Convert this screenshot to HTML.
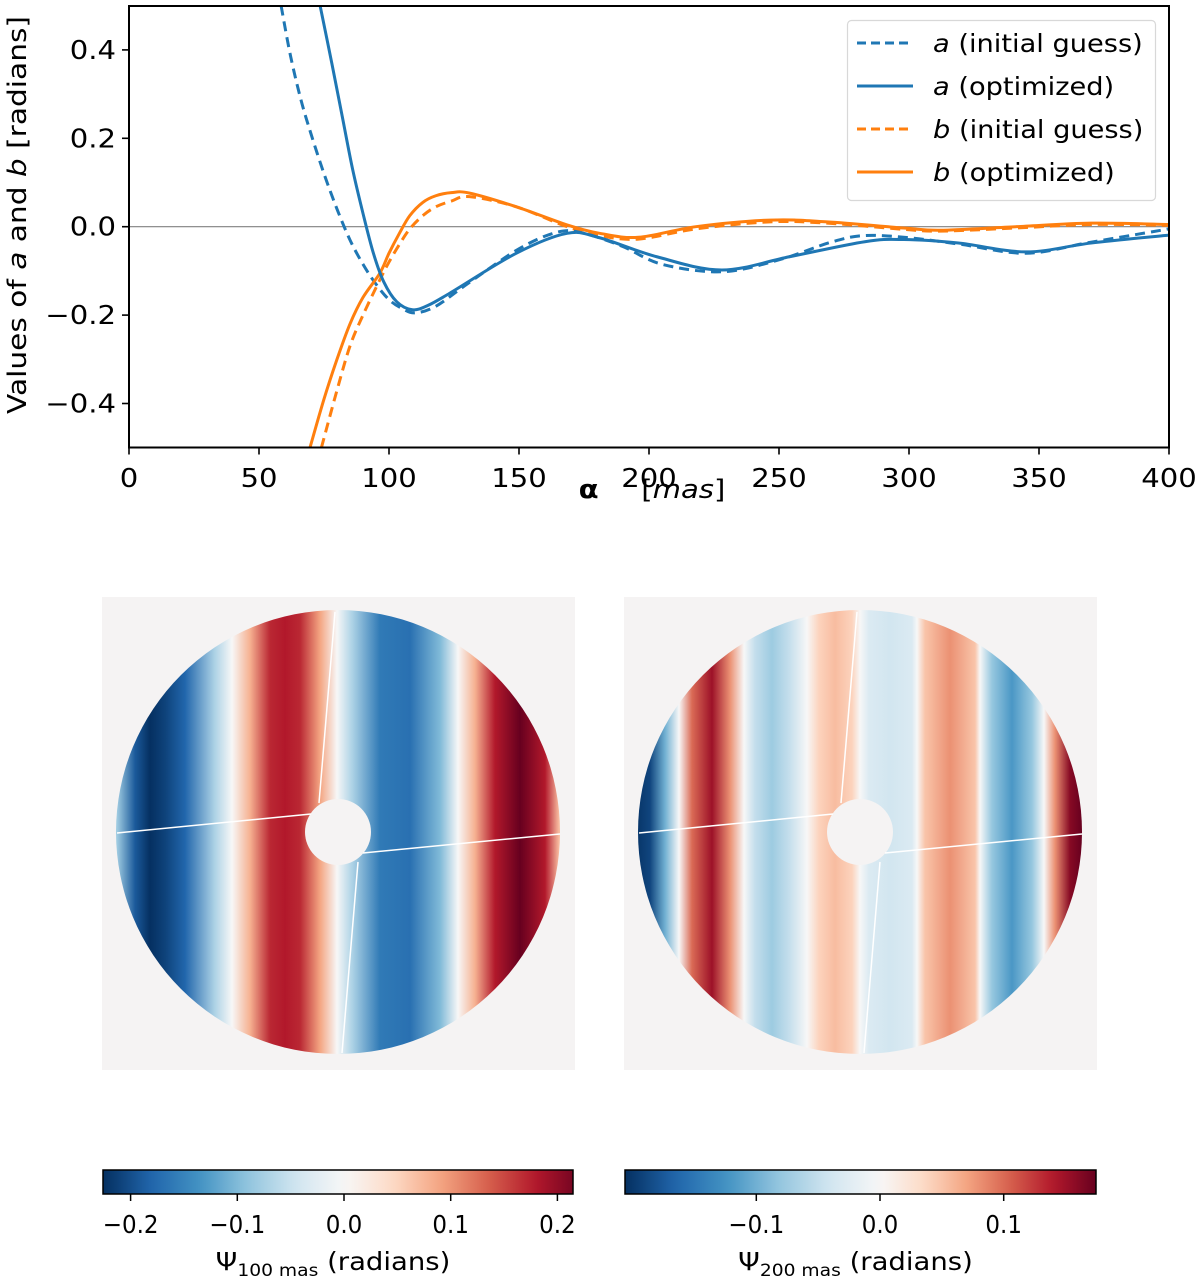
<!DOCTYPE html>
<html><head><meta charset="utf-8">
<style>
html,body{margin:0;padding:0;background:#fff;}
svg{display:block;font-family:"DejaVu Sans","Liberation Sans",sans-serif;}
</style></head>
<body>
<svg id="fig" width="1200" height="1282" viewBox="0 0 1200 1282" xmlns="http://www.w3.org/2000/svg">
<defs>
<clipPath id="plotclip"><rect x="129" y="6" width="1040" height="441"/></clipPath>
</defs>
<g id="topchart"></g>
<g id="mapsgroup"></g>
</svg>
<script>
// ---- line chart data ----
const aInitX = [58.5, 62, 66, 70, 75, 80, 85, 90, 95, 100, 105, 110, 118, 130, 150, 165, 175, 190, 205, 228, 250, 270, 283, 300, 320, 345, 370, 400];
const aInitY = [0.5, 0.39, 0.29, 0.21, 0.12, 0.04, -0.03, -0.085, -0.13, -0.165, -0.185, -0.195, -0.18, -0.13, -0.05, -0.012, -0.015, -0.045, -0.085, -0.102, -0.075, -0.035, -0.02, -0.025, -0.04, -0.06, -0.035, -0.005];
const aOptX = [73.5, 78, 82, 86, 90, 94, 98, 103, 109, 115, 123.5, 149, 168.5, 181, 203, 228, 254, 283, 298, 319, 345, 370, 400];
const aOptY = [0.5, 0.37, 0.25, 0.13, 0.03, -0.06, -0.125, -0.17, -0.188, -0.178, -0.15, -0.06, -0.015, -0.025, -0.068, -0.098, -0.068, -0.034, -0.029, -0.037, -0.057, -0.037, -0.019];
const bInitX = [74, 80, 85, 90, 96.5, 100, 104, 108, 113, 118, 124, 131, 149, 168.5, 181, 196, 218, 246.5, 268.5, 298, 312, 341, 370, 400];
const bInitY = [-0.5, -0.37, -0.27, -0.2, -0.12, -0.08, -0.04, -0.005, 0.025, 0.045, 0.058, 0.068, 0.045, 0.0, -0.02, -0.028, -0.005, 0.011, 0.008, -0.006, -0.01, -0.003, 0.005, 0.003];
const bOptX = [69.6, 75, 80, 85, 90, 96.5, 100, 104, 108, 113, 118, 124, 131, 149, 168.5, 181, 196, 218, 246.5, 268.5, 298, 312, 341, 370, 400];
const bOptY = [-0.5, -0.39, -0.3, -0.22, -0.16, -0.105, -0.06, -0.015, 0.025, 0.055, 0.07, 0.077, 0.076, 0.045, 0.004, -0.015, -0.024, 0.0, 0.015, 0.011, -0.003, -0.008, 0.0, 0.008, 0.005];
const xTicks = [0, 50, 100, 150, 200, 250, 300, 350, 400];
const yTicks = [-0.4, -0.2, 0.0, 0.2, 0.4];
const yTickLabels = ["\u22120.4", "\u22120.2", "0.0", "0.2", "0.4"];
// ---- phase map profiles (value across x) ----
const map1X = [117,135,150,165,185,215,232,250,270,285,300,320,337,352,380,410,440,458,475,495,520,545,559];
const map1V = [-0.08,-0.19,-0.225,-0.21,-0.18,-0.07,0,0.08,0.17,0.18,0.17,0.09,0,-0.07,-0.16,-0.17,-0.1,0,0.08,0.18,0.225,0.18,0.07];
const map2X = [639,650,665,679,692,712,730,744,755,772,789,807,819,835,852,860,869,890,912,917,925,950,975,980,992,1012,1032,1044,1055,1070,1082];
const map2V = [-0.2,-0.19,-0.1,0,0.1,0.15,0.08,0,-0.05,-0.075,-0.05,0,0.04,0.055,0.04,0,-0.03,-0.04,-0.03,0,0.05,0.08,0.05,0,-0.08,-0.12,-0.08,0,0.08,0.16,0.175];
const cb1Ticks = [-0.2,-0.1,0.0,0.1,0.2];
const cb1Labels = ["\u22120.2","\u22120.1","0.0","0.1","0.2"];
const cb2Ticks = [-0.1,0.0,0.1];
const cb2Labels = ["\u22120.1","0.0","0.1"];

const NS="http://www.w3.org/2000/svg";
function mk(tag, attrs, parent){const e=document.createElementNS(NS,tag);for(const k in attrs)e.setAttribute(k,attrs[k]);if(parent)parent.appendChild(e);return e;}
const SX=1.12;
function txt(x,y,anchor,size,parent,rot){
  const t=mk('text',{x:0,y:0,'text-anchor':anchor,'font-size':size,fill:'#000',transform:`translate(${x},${y})`+(rot?` rotate(${rot})`:'')+` scale(${SX},1)`},parent);
  return t;
}

const X0=129, X1=1169, YT=6, YB=447.5;
const xs = v => X0 + (v-0)/(400-0)*(X1-X0);
const ys = v => 226.7 - v*442;

const topG=document.getElementById('topchart');
mk('rect',{x:X0,y:YT,width:X1-X0,height:YB-YT,fill:'#fff'},topG);
const zl=mk('line',{x1:X0,x2:X1,y1:ys(0),y2:ys(0),stroke:'#808080','stroke-width':1.2},topG);



function pathFrom(xa,ya){
  const p=xa.map((x,i)=>[xs(x),ys(ya[i])]);
  let d=`M${p[0][0]},${p[0][1]}`;
  for(let i=0;i<p.length-1;i++){
    const p0=p[Math.max(0,i-1)],p1=p[i],p2=p[i+1],p3=p[Math.min(p.length-1,i+2)];
    const c1=[p1[0]+(p2[0]-p0[0])/6,p1[1]+(p2[1]-p0[1])/6];
    const c2=[p2[0]-(p3[0]-p1[0])/6,p2[1]-(p3[1]-p1[1])/6];
    d+=` C${c1[0]},${c1[1]} ${c2[0]},${c2[1]} ${p2[0]},${p2[1]}`;
  }
  return d;
}
const series=[
 {x:bInitX,y:bInitY,c:'#ff7f0e',dash:'10,6',name:'b-initial-guess-line'},
 {x:aInitX,y:aInitY,c:'#1f77b4',dash:'10,6',name:'a-initial-guess-line'},
 {x:bOptX,y:bOptY,c:'#ff7f0e',dash:'',name:'b-optimized-line'},
 {x:aOptX,y:aOptY,c:'#1f77b4',dash:'',name:'a-optimized-line'}
];
const cg=mk('g',{'clip-path':'url(#plotclip)'},topG);
series.forEach(s=>{
  const el=mk('path',{d:pathFrom(s.x,s.y),fill:'none',stroke:s.c,'stroke-width':3,'stroke-dasharray':s.dash},cg);
  
  
});
mk('rect',{x:X0,y:YT,width:X1-X0,height:YB-YT,fill:'none',stroke:'#000','stroke-width':2},topG);
xTicks.forEach(t=>{
  mk('line',{x1:xs(t),x2:xs(t),y1:YB,y2:YB+7,stroke:'#000','stroke-width':1.6},topG);
  const tx=txt(xs(t),487,'middle',26,topG);
  tx.textContent=t;
  
  
});
yTicks.forEach((t,i)=>{
  mk('line',{x1:X0-7,x2:X0,y1:ys(t),y2:ys(t),stroke:'#000','stroke-width':1.6},topG);
  const tx=txt(X0-13,ys(t)+9,'end',26,topG);
  tx.textContent=yTickLabels[i];
  
  
});
const xt=txt(652,498,'middle',26,topG);
xt.innerHTML='<tspan font-weight="bold">α</tspan><tspan dx="38">[</tspan><tspan font-style="italic">mas</tspan><tspan>]</tspan>';


const yt=mk('text',{x:0,y:0,'text-anchor':'middle','font-size':26,fill:'#000',transform:'translate(26,215) rotate(-90) scale(1.14,1)'},topG);
yt.innerHTML='Values of <tspan font-style="italic">a</tspan> and <tspan font-style="italic">b</tspan> [radians]';


const lg=mk('g',{},topG);


mk('rect',{x:847.5,y:20.5,width:308,height:180,rx:4,fill:'#fff','fill-opacity':0.85,stroke:'#d8d8d8','stroke-width':1.2},lg);
const legItems=[['a','(initial guess)','#1f77b4','9,5'],['a','(optimized)','#1f77b4',''],['b','(initial guess)','#ff7f0e','9,5'],['b','(optimized)','#ff7f0e','']];
legItems.forEach((it,i)=>{
  const y=43+i*43;
  mk('line',{x1:857,x2:913,y1:y,y2:y,stroke:it[2],'stroke-width':3,'stroke-dasharray':it[3]},lg);
  const t=mk('text',{x:0,y:0,'font-size':25,fill:'#000',transform:`translate(933,${y+9}) scale(1.09,1)`},lg);
  t.innerHTML='<tspan font-style="italic">'+it[0]+'</tspan> '+it[1];
  
  
});

const rdbu=['#053061','#2166ac','#4393c3','#92c5de','#d1e5f0','#f7f7f7','#fddbc7','#f4a582','#d6604d','#b2182b','#67001f'];
function hex(c){return [1,3,5].map(i=>parseInt(c.substr(i,2),16));}
function cmap(t){t=Math.max(0,Math.min(1,t));const f=t*10,i=Math.min(9,Math.floor(f)),r=f-i;const a=hex(rdbu[i]),b=hex(rdbu[i+1]);return 'rgb('+a.map((v,k)=>Math.round(v+(b[k]-v)*r)).join(',')+')';}
function norm(v,vmin,vmax){return v<0?0.5-0.5*v/vmin:0.5+0.5*v/vmax;}

const mapsG=document.getElementById('mapsgroup');
const defsEl=document.querySelector('defs');
function drawMap(id,ox,px,pv,vmin,vmax){
  const g=mk('g',{},mapsG);
  
  
  const bg='#f5f3f3';
  mk('rect',{x:ox,y:597,width:473,height:473,fill:bg},g);
  const cx=ox+236, cy=832, r=222;
  const gr=mk('linearGradient',{id:'grad'+id,gradientUnits:'userSpaceOnUse',x1:px[0],x2:px[px.length-1],y1:0,y2:0},defsEl);
  px.forEach((x,i)=>{mk('stop',{offset:(x-px[0])/(px[px.length-1]-px[0]),'stop-color':cmap(norm(pv[i],vmin,vmax))},gr);});
  mk('circle',{cx:cx,cy:cy,r:r,fill:'url(#grad'+id+')'},g);
  mk('circle',{cx:cx,cy:cy,r:33,fill:bg},g);
  const d=ox-102;
  [[117,833,311,814],[319,803,335,612],[363,853,560,834],[358,862,342,1053]].forEach(l=>{
    const sp=mk('line',{x1:l[0]+d,y1:l[1],x2:l[2]+d,y2:l[3],stroke:'#fff','stroke-width':1.5},g);
    
    
  });
}
drawMap(1,102,map1X,map1V,-0.225,0.225);
drawMap(2,624,map2X,map2V,-0.206,0.175);

function drawCbar(id,x0,x1,vmin,vmax,zero,unit,ticks,labels,sub){
  const g=mk('g',{},mapsG);
  
  
  const gr=mk('linearGradient',{id:'cb'+id,gradientUnits:'userSpaceOnUse',x1:x0,x2:x1,y1:0,y2:0},defsEl);
  for(let i=0;i<=40;i++){const x=x0+(x1-x0)*i/40;const v=(x-zero)/unit*0.1;mk('stop',{offset:i/40,'stop-color':cmap(norm(v,vmin,vmax))},gr);}
  mk('rect',{x:x0,y:1170,width:x1-x0,height:24,fill:'url(#cb'+id+')',stroke:'#000','stroke-width':1.5},g);
  ticks.forEach((t,i)=>{
    const x=zero+t/0.1*unit;
    mk('line',{x1:x,x2:x,y1:1194,y2:1201,stroke:'#000','stroke-width':1.5},g);
    const tx=mk('text',{x:0,y:0,'text-anchor':'middle','font-size':23,fill:'#000',transform:`translate(${x},1233) scale(1.0,1.1)`},g);
    tx.textContent=labels[i];
    
    
  });
  const lt=mk('text',{x:0,y:0,'text-anchor':'middle','font-size':25,fill:'#000',transform:`translate(${(x0+x1)/2-5},1270) scale(1.1,1)`},g);
  lt.innerHTML='Ψ<tspan font-size="17" dy="6">'+sub+'</tspan><tspan dy="-6"> (radians)</tspan>';
  
  
}
drawCbar(1,103,573,-0.225,0.225,344,106.7,cb1Ticks,cb1Labels,'100 mas');
drawCbar(2,625,1096,-0.206,0.175,880,123.7,cb2Ticks,cb2Labels,'200 mas');
</script>
</body></html>
